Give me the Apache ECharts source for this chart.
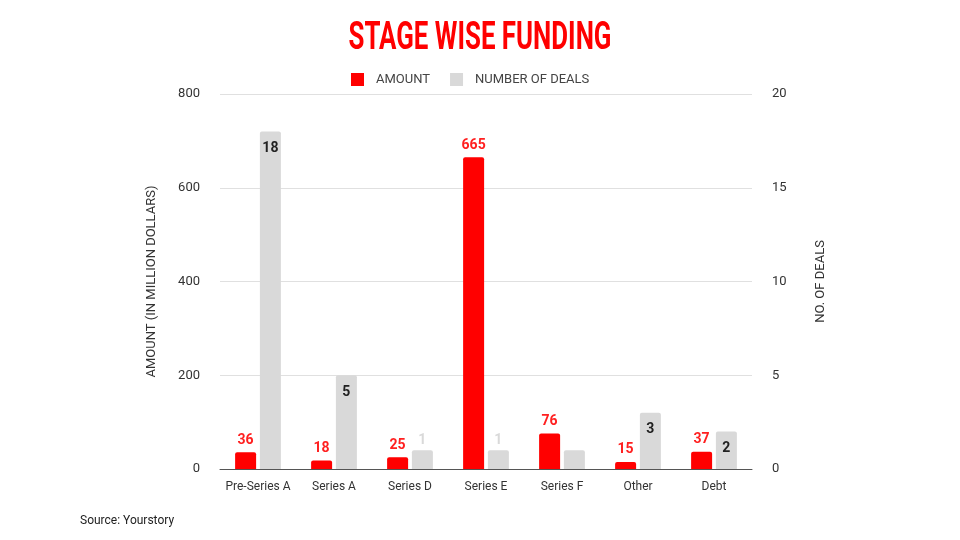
<!DOCTYPE html>
<html>
<head>
<meta charset="utf-8">
<script src="https://cdn.jsdelivr.net/npm/echarts@6/dist/echarts.min.js"></script>
<style>
    html, body { margin: 0; padding: 0; background: #fff; }
    #chart { width: 960px; height: 540px; }
</style>
</head>
<body>
<div id="chart"></div>
<script>
// 数据
var categories = ['Pre-Series A', 'Series A', 'Series D', 'Series E', 'Series F', 'Other', 'Debt'];
var amount = [36, 18, 25, 665, 76, 15, 37];
var deals = [18, 5, 1, 1, 1, 3, 2];
var leftTicks = [0, 200, 400, 600, 800];
var rightTicks = [0, 5, 10, 15, 20];
// the deal label that is not shown in the picture
var hiddenDealLabels = ['Series F'];

var chart = echarts.init(document.getElementById('chart'));

// 数量标签: small bars get a faint label above, the rest a dark one inside
var dealsData = deals.map(function (v, i) {
    var small = v <= 1;
    return {
        value: v,
        label: {
            show: hiddenDealLabels.indexOf(categories[i]) < 0,
            position: small ? 'top' : 'insideTop',
            distance: small ? 3 : 10,
            color: small ? '#d9d9d9' : '#222'
        }
    };
});

var option = {
    animation: false,
    textStyle: { fontFamily: 'Roboto' },
    //图例
    legend: {
        top: 68,
        left: 346,
        itemWidth: 13,
        itemHeight: 13,
        itemGap: 20,
        icon: 'rect',
        textStyle: { fontSize: 13, color: '#444', padding: [0, 0, 0, 7] },
        data: ['AMOUNT', 'NUMBER OF DEALS']
    },
    grid: { left: 220, right: 208, top: 94, bottom: 71 },
    xAxis: {
        type: 'category',
        data: categories,
        axisTick: { show: false },
        axisLine: { lineStyle: { color: '#555', width: 1 } },
        axisLabel: { color: '#333', fontSize: 12, margin: 12, interval: 0 }
    },
    yAxis: [{
        type: 'value',
        min: leftTicks[0],
        max: leftTicks[leftTicks.length - 1],
        interval: leftTicks[1] - leftTicks[0],
        name: 'AMOUNT (IN MILLION DOLLARS)',
        nameLocation: 'middle',
        nameGap: 62,
        nameTextStyle: { fontSize: 13, color: '#333' },
        axisLabel: { color: '#333', fontSize: 13, margin: 20 },
        splitLine: { lineStyle: { color: '#e0e0e0' } }
    }, {
        type: 'value',
        min: rightTicks[0],
        max: rightTicks[rightTicks.length - 1],
        interval: rightTicks[1] - rightTicks[0],
        name: 'NO. OF DEALS',
        nameLocation: 'middle',
        nameGap: 62,
        nameRotate: 90,
        nameTextStyle: { fontSize: 13, color: '#333' },
        axisLabel: { color: '#333', fontSize: 13, margin: 20 },
        splitLine: { show: false }
    }],
    series: [{
        name: 'AMOUNT',
        type: 'bar',
        data: amount,
        barWidth: 21,
        barGap: '18%',
        itemStyle: { color: '#ff0000', borderRadius: [2, 2, 0, 0] },
        label: {
            show: true,
            position: 'top',
            distance: 5,
            color: '#ff2020',
            fontWeight: 'bold',
            fontSize: 14
        }
    }, {
        name: 'NUMBER OF DEALS',
        type: 'bar',
        yAxisIndex: 1,
        data: dealsData,
        barWidth: 21,
        itemStyle: { color: '#d9d9d9', borderRadius: [2, 2, 0, 0] },
        label: { fontWeight: 'bold', fontSize: 14 }
    }],
    graphic: [{
        //标题 (condensed look by squeezing the text horizontally)
        type: 'text',
        x: 480,
        y: 20,
        scaleX: 0.68,
        style: {
            text: 'STAGE WISE FUNDING',
            textAlign: 'center',
            textVerticalAlign: 'top',
            fontFamily: 'Roboto',
            fontWeight: 'bold',
            fontSize: 38,
            fill: '#ff0000'
        }
    }, {
        type: 'text',
        left: 80,
        top: 515,
        style: { text: 'Source: Yourstory', fontFamily: 'Roboto', fontSize: 12, fill: '#222' }
    }]
};

chart.setOption(option);
</script>
</body>
</html>
